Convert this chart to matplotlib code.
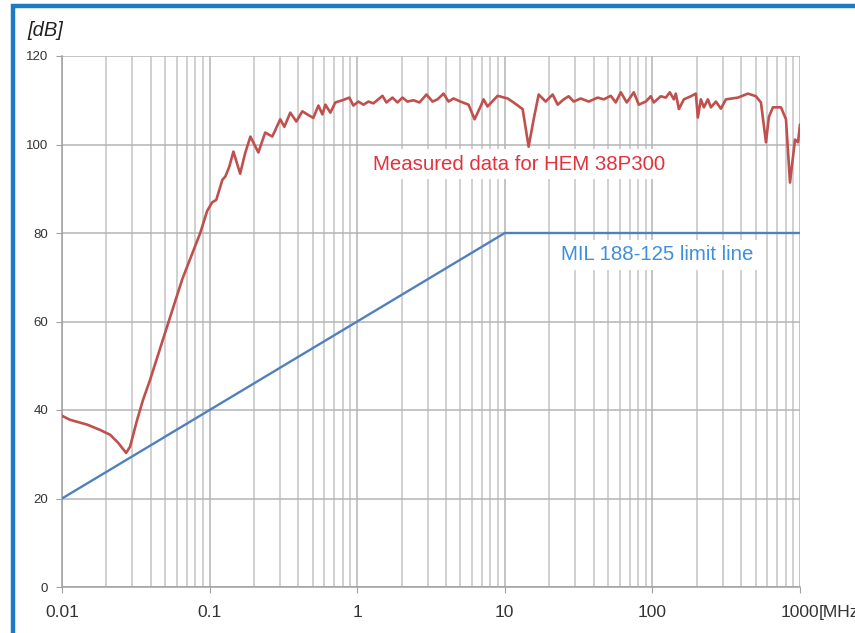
import numpy as np
import matplotlib.pyplot as plt
from matplotlib.patches import Rectangle
from matplotlib.ticker import FixedLocator, NullFormatter

plt.rcParams['font.family'] = ['Liberation Sans', 'DejaVu Sans']

# measured attenuation of HEM 38P300
freq_mhz = [0.0100, 0.0113, 0.0148, 0.0181, 0.0212, 0.0240, 0.0272, 0.0289, 0.0323, 0.0354,
            0.0395, 0.0500, 0.0652, 0.0864, 0.0963, 0.104, 0.111, 0.122, 0.128, 0.136,
            0.145, 0.161, 0.174, 0.189, 0.214, 0.238, 0.266, 0.301, 0.321, 0.352,
            0.387, 0.425, 0.459, 0.504, 0.546, 0.581, 0.609, 0.658, 0.711, 0.794,
            0.885, 0.942, 1.019, 1.102, 1.191, 1.288, 1.483, 1.578, 1.733, 1.874,
            2.026, 2.190, 2.406, 2.642, 2.947, 3.237, 3.500, 3.844, 4.156, 4.494,
            5.013, 5.681, 6.240, 6.851, 7.181, 7.643, 8.940, 10.45, 11.47, 13.21,
            14.50, 15.69, 16.96, 18.91, 21.10, 22.82, 25.06, 27.10, 29.30, 32.68,
            37.02, 42.62, 46.81, 52.22, 56.46, 61.05, 67.05, 74.79, 80.86, 90.20,
            97.52, 102.2, 114.0, 123.3, 131.2, 139.7, 144.1, 151.1, 163.3, 182.2,
            197.0, 203.2, 213.0, 223.2, 237.6, 249.0, 269.3, 291.1, 314.8, 379.6,
            443.9, 502.9, 543.8, 588.0, 616.2, 655.9, 743.2, 803.5, 855.4, 925.0,
            969.2, 1000.0]
measured_db = [38.7, 37.8, 36.7, 35.5, 34.4, 32.6, 30.3, 31.7, 37.8, 42.3,
               46.8, 57.5, 69.5, 80.0, 85.0, 86.9, 87.5, 92.0, 92.8, 95.0,
               98.4, 93.4, 98.0, 101.8, 98.2, 102.7, 101.8, 105.7, 104.0, 107.2,
               105.2, 107.5, 106.8, 106.0, 108.8, 106.8, 109.0, 107.2, 109.5, 110.0,
               110.6, 108.8, 109.7, 109.0, 109.7, 109.3, 111.0, 109.5, 110.6, 109.5,
               110.6, 109.7, 110.0, 109.5, 111.3, 109.7, 110.2, 111.5, 109.7, 110.4,
               109.7, 109.0, 105.7, 108.6, 110.2, 108.6, 111.0, 110.4, 109.5, 108.0,
               99.5, 105.7, 111.3, 109.7, 111.3, 109.0, 110.2, 110.9, 109.7, 110.4,
               109.7, 110.6, 110.2, 111.0, 109.5, 111.8, 109.5, 111.8, 109.0, 109.7,
               110.9, 109.5, 110.9, 110.6, 111.8, 110.2, 111.5, 108.0, 110.2, 110.9,
               111.5, 106.1, 110.2, 108.4, 110.2, 108.4, 109.7, 108.1, 110.2, 110.6,
               111.5, 110.9, 109.5, 100.5, 106.3, 108.4, 108.4, 105.7, 91.4, 101.1,
               100.5, 104.5]

# MIL 188-125 limit line
limit_freq = [0.01, 10, 1000]
limit_db = [20, 80, 80]

x_ticks = [0.01, 0.1, 1, 10, 100, 1000]
x_labels = ['0.01', '0.1', '1', '10', '100', '1000']
y_ticks = [0, 20, 40, 60, 80, 100, 120]

fig = plt.figure(figsize=(8.55, 6.33), dpi=100)
ax = fig.add_axes([62/855, 1 - 587/633, (800 - 62)/855, (587 - 56)/633])

ax.plot(freq_mhz, measured_db, color='#c0504d', lw=1.9, zorder=4,
        solid_joinstyle='round', solid_capstyle='round')
ax.plot(limit_freq, limit_db, color='#4f81bd', lw=1.7, zorder=4)

ax.set_xscale('log')
ax.set_xlim(0.01, 1000)
ax.set_ylim(0, 120)

ax.xaxis.set_major_locator(FixedLocator(x_ticks))
ax.set_xticklabels(x_labels)
minor = [m * 10.0**e for e in range(-2, 3) for m in range(2, 10)]
ax.xaxis.set_minor_locator(FixedLocator(minor))
ax.xaxis.set_minor_formatter(NullFormatter())
ax.set_yticks(y_ticks)

ax.grid(True, which='major', color='#b4b4b4', lw=1.1)
ax.grid(True, which='minor', axis='x', color='#c4c4c4', lw=1.1)
ax.set_axisbelow(True)

for s in ['top', 'right']:
    ax.spines[s].set_visible(False)
for s in ['left', 'bottom']:
    ax.spines[s].set_color('#a0a0a0')
    ax.spines[s].set_linewidth(1.1)

ax.tick_params(axis='x', which='major', length=4, color='#a0a0a0', labelsize=12.5,
               labelcolor='#333333', pad=9)
ax.tick_params(axis='x', which='minor', length=0)
ax.tick_params(axis='y', length=4, color='#a0a0a0', labelsize=9.5,
               labelcolor='#333333', pad=6)

# unit after the last x label, cut by the frame edge like in the source
ax.annotate('[MHz]', xy=(1000, 0), xycoords='data', xytext=(13.5, -13), textcoords='offset points',
            ha='left', va='top', fontsize=12.5, color='#333333', annotation_clip=False)

fig.text(27/855, 1 - 30/633, '[dB]', fontsize=14.5, style='italic', color='#222222',
         ha='left', va='center')

ax.text(1.27, 94.3, 'Measured data for HEM 38P300', color='#e3323b', fontsize=14.7,
        va='baseline', ha='left', zorder=5,
        bbox=dict(facecolor='white', edgecolor='none', pad=4))
ax.text(23.9, 73.8, 'MIL 188-125 limit line', color='#3f8fdc', fontsize=14.7,
        va='baseline', ha='left', zorder=5,
        bbox=dict(facecolor='white', edgecolor='none', pad=4))

# blue frame around the picture
fig.patches.append(Rectangle((13/855, -0.05), 1.1, 1 - 6/633 + 0.05, transform=fig.transFigure,
                             fill=False, edgecolor='#1b7bc6', lw=3.2, zorder=10))

fig.savefig('out.png', dpi=100)
